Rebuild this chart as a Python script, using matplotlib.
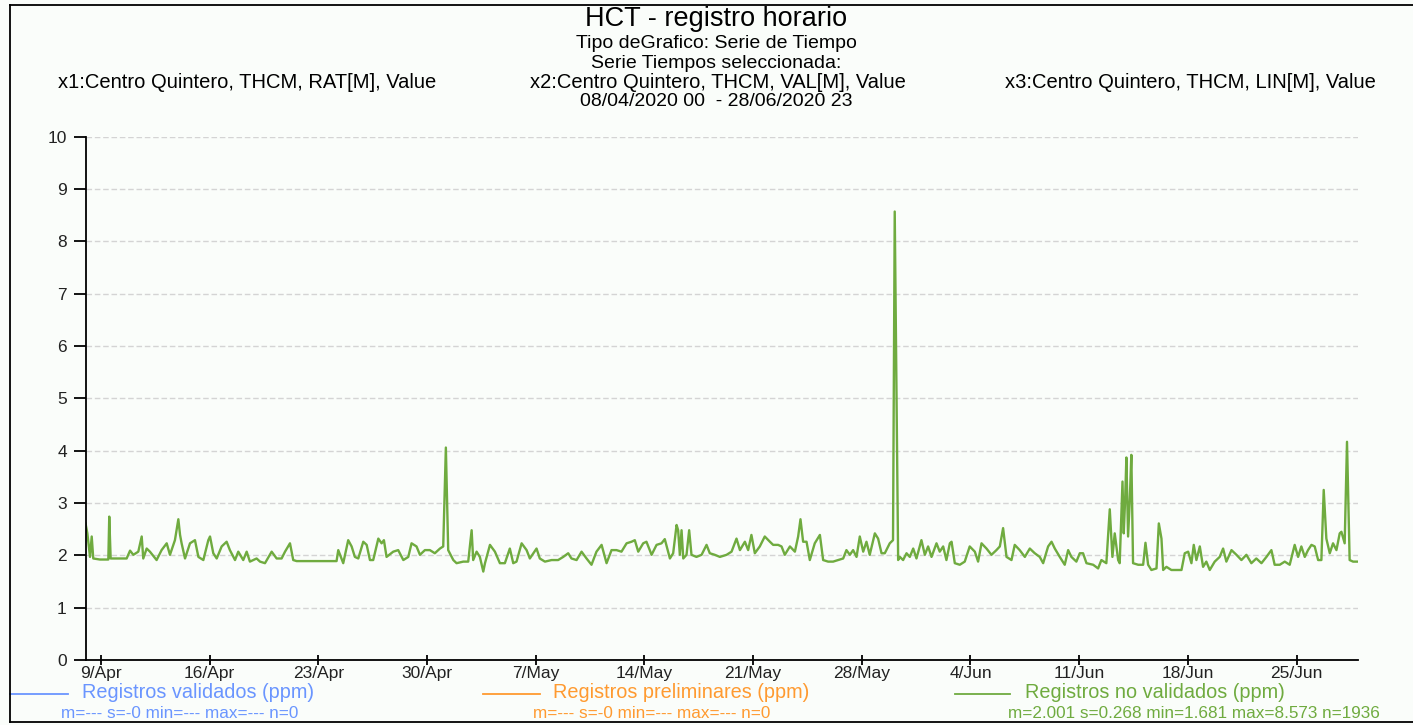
import numpy as np
import pandas as pd
import matplotlib
matplotlib.use("Agg")
import matplotlib.pyplot as plt
from matplotlib.lines import Line2D

# hourly THCM record, sampled from the chart (days since 08/04/2020 00:00, ppm)
day_offset = [
    0.00, 0.12, 0.29, 0.40, 0.50, 0.93, 1.47, 1.53, 1.62, 2.11, 2.65, 2.87, 3.08, 3.40, 3.62,
    3.72, 3.94, 4.15, 4.58, 4.90, 5.23, 5.44, 5.76, 5.98, 6.09, 6.19, 6.41, 6.73, 7.05, 7.27,
    7.59, 7.91, 8.02, 8.23, 8.45, 8.77, 9.09, 9.30, 9.63, 9.84, 10.16, 10.38, 10.59, 11.02, 11.24,
    11.56, 11.99, 12.31, 12.63, 12.85, 13.17, 13.38, 13.60, 16.17, 16.28, 16.60, 16.92, 17.14, 17.35, 17.57,
    17.89, 18.11, 18.32, 18.53, 18.86, 19.07, 19.22, 19.39, 19.82, 20.14, 20.47, 20.79, 21.00, 21.32, 21.54,
    21.86, 22.18, 22.50, 22.83, 23.04, 23.21, 23.36, 23.69, 23.90, 24.33, 24.65, 24.87, 24.97, 25.19, 25.40,
    25.62, 25.73, 26.05, 26.37, 26.69, 27.01, 27.33, 27.55, 27.76, 28.09, 28.41, 28.62, 29.05, 29.26, 29.59,
    30.02, 30.44, 30.77, 31.09, 31.30, 31.63, 31.95, 32.27, 32.59, 32.91, 33.24, 33.56, 33.88, 34.20, 34.52,
    34.85, 35.17, 35.38, 35.60, 35.92, 36.13, 36.46, 36.78, 37.10, 37.31, 37.64, 37.85, 38.07, 38.17, 38.28,
    38.39, 38.50, 38.71, 38.88, 39.03, 39.35, 39.68, 40.00, 40.21, 40.53, 40.86, 41.29, 41.61, 41.93, 42.15,
    42.47, 42.68, 42.89, 43.11, 43.43, 43.75, 44.08, 44.29, 44.61, 44.83, 45.04, 45.37, 45.69, 45.90, 46.05,
    46.22, 46.44, 46.65, 46.97, 47.30, 47.51, 47.83, 48.15, 48.48, 48.80, 49.01, 49.23, 49.44, 49.66, 49.87,
    50.09, 50.30, 50.51, 50.84, 51.05, 51.27, 51.48, 51.80, 52.01, 52.12, 52.34, 52.45, 52.66, 52.88, 53.09,
    53.31, 53.52, 53.84, 54.06, 54.27, 54.49, 54.81, 55.02, 55.24, 55.45, 55.67, 55.78, 55.99, 56.31, 56.63,
    56.95, 57.28, 57.49, 57.71, 58.03, 58.35, 58.67, 58.89, 59.10, 59.32, 59.64, 59.85, 60.17, 60.50, 60.82,
    61.14, 61.46, 61.68, 62.00, 62.22, 62.43, 62.75, 63.07, 63.29, 63.50, 63.82, 64.04, 64.25, 64.47, 64.90,
    65.22, 65.43, 65.75, 65.97, 66.14, 66.29, 66.51, 66.61, 66.79, 66.87, 66.96, 67.04, 67.15, 67.26, 67.36,
    67.47, 67.80, 68.12, 68.27, 68.44, 68.65, 68.98, 69.13, 69.30, 69.41, 69.62, 69.94, 70.26, 70.59, 70.80,
    71.02, 71.23, 71.38, 71.55, 71.77, 71.98, 72.19, 72.41, 72.73, 73.05, 73.27, 73.48, 73.81, 74.13, 74.45,
    74.77, 75.09, 75.41, 75.74, 76.06, 76.38, 76.59, 76.92, 77.24, 77.56, 77.88, 78.10, 78.31, 78.53, 78.74,
    78.96, 79.17, 79.39, 79.60, 79.75, 79.92, 80.14, 80.35, 80.57, 80.78, 80.89, 81.10, 81.25, 81.42, 81.64,
    81.96,
]
ppm = [
    2.61, 2.42, 1.97, 2.36, 1.94, 1.92, 1.92, 2.74, 1.94, 1.94, 1.94, 2.09, 2.01, 2.07, 2.36,
    1.94, 2.13, 2.07, 1.91, 2.10, 2.23, 2.01, 2.29, 2.69, 2.39, 2.23, 1.94, 2.23, 2.29, 1.97,
    1.91, 2.29, 2.36, 2.04, 1.94, 2.17, 2.26, 2.10, 1.91, 2.07, 1.91, 2.07, 1.88, 1.94, 1.88,
    1.85, 2.07, 1.94, 1.94, 2.07, 2.23, 1.91, 1.89, 1.89, 2.10, 1.85, 2.29, 2.17, 1.97, 1.94,
    2.26, 2.20, 1.91, 1.91, 2.32, 2.23, 2.29, 1.97, 2.07, 2.10, 1.91, 1.97, 2.23, 2.17, 2.01,
    2.10, 2.10, 2.04, 2.13, 2.17, 4.06, 2.10, 1.91, 1.85, 1.88, 1.88, 2.48, 1.91, 2.07, 1.97,
    1.69, 1.85, 2.20, 2.07, 1.85, 1.85, 2.13, 1.85, 1.88, 2.23, 2.10, 1.94, 2.13, 1.94, 1.88,
    1.91, 1.91, 1.97, 2.04, 1.94, 1.91, 2.07, 1.94, 1.82, 2.07, 2.20, 1.85, 2.10, 2.10, 2.07,
    2.23, 2.26, 2.29, 2.07, 2.23, 2.26, 2.01, 2.20, 2.23, 2.31, 1.94, 2.04, 2.58, 2.48, 2.01,
    2.48, 1.94, 2.01, 2.48, 2.01, 1.97, 2.01, 2.20, 2.04, 2.01, 1.97, 2.01, 2.07, 2.32, 2.10,
    2.26, 2.10, 2.39, 2.04, 2.17, 2.36, 2.26, 2.20, 2.20, 2.17, 2.01, 2.17, 2.07, 2.36, 2.69,
    2.26, 2.26, 1.91, 2.23, 2.39, 1.91, 1.88, 1.88, 1.91, 1.94, 2.10, 2.01, 2.10, 1.97, 2.36,
    2.07, 2.26, 2.01, 2.42, 2.32, 2.04, 2.04, 2.23, 2.29, 8.57, 1.91, 1.97, 1.91, 2.04, 1.97,
    2.13, 1.94, 2.29, 2.01, 2.17, 1.97, 2.23, 2.07, 2.17, 1.91, 2.23, 2.26, 1.85, 1.82, 1.88,
    2.17, 2.07, 1.88, 2.23, 2.13, 2.01, 2.10, 2.17, 2.52, 1.97, 1.91, 2.20, 2.10, 1.97, 2.13,
    2.04, 1.97, 1.85, 2.17, 2.26, 2.13, 1.97, 1.82, 2.10, 1.97, 1.88, 2.04, 2.04, 1.85, 1.82,
    1.75, 1.91, 1.85, 2.88, 1.97, 2.42, 1.91, 1.85, 3.41, 2.42, 3.06, 3.87, 2.36, 3.06, 3.92,
    1.85, 1.82, 1.82, 2.24, 1.82, 1.72, 1.75, 2.61, 2.32, 1.72, 1.78, 1.72, 1.72, 1.72, 2.04,
    2.07, 1.85, 2.20, 1.91, 2.17, 1.78, 1.88, 1.72, 1.88, 1.97, 2.13, 1.88, 2.10, 2.01, 1.91,
    2.01, 1.85, 1.94, 1.85, 1.97, 2.10, 1.82, 1.82, 1.88, 1.82, 2.20, 1.97, 2.17, 1.97, 2.10,
    2.20, 2.17, 1.91, 1.91, 3.25, 2.32, 2.04, 2.23, 2.10, 2.42, 2.45, 2.23, 4.17, 1.91, 1.88,
    1.88,
]

start = pd.Timestamp("2020-04-08 00:00")
end = pd.Timestamp("2020-06-28 23:00")
tick_dates = pd.date_range("2020-04-09", periods=12, freq="7D")
tick_labels = ["9/Apr", "16/Apr", "23/Apr", "30/Apr", "7/May", "14/May",
               "21/May", "28/May", "4/Jun", "11/Jun", "18/Jun", "25/Jun"]

title = "HCT - registro horario"
subtitle_1 = "Tipo deGrafico: Serie de Tiempo"
subtitle_2 = "Serie Tiempos seleccionada:"
series_names = ["x1:Centro Quintero, THCM, RAT[M], Value",
                "x2:Centro Quintero, THCM, VAL[M], Value",
                "x3:Centro Quintero, THCM, LIN[M], Value"]
date_range_text = "08/04/2020 00  - 28/06/2020 23"
legend_names = ["Registros validados (ppm)", "Registros preliminares (ppm)",
                "Registros no validados (ppm)"]
legend_stats = ["m=--- s=-0 min=--- max=--- n=0",
                "m=--- s=-0 min=--- max=--- n=0",
                "m=2.001 s=0.268 min=1.681 max=8.573 n=1936"]
legend_colors = ["#6a95ff", "#ff9a30", "#6fab3f"]

W, H = 1413, 725
plt.rcParams["font.family"] = ["Liberation Sans", "DejaVu Sans"]
bg = "#fafdfa"

fig = plt.figure(figsize=(W / 100, H / 100), dpi=100, facecolor=bg)
ax = fig.add_axes([85.5 / W, 1 - 660 / H, (1358 - 85.5) / W, (660 - 136.7) / H])
ax.set_facecolor(bg)


def fx(x):
    return x / W


def fy(y):
    return 1 - y / H


times = start + pd.to_timedelta(day_offset, unit="D")
ax.plot(times, ppm, color=legend_colors[2], lw=1.7)

ax.set_xlim(start, end)
ax.set_ylim(0, 10)
ax.set_yticks(range(0, 11))
ax.set_xticks(tick_dates)
ax.set_xticklabels(tick_labels)
ax.grid(axis="y", color="#d4d4d4", lw=1.0, ls=(0, (4, 2)))
ax.set_axisbelow(True)

for s in ["top", "right"]:
    ax.spines[s].set_visible(False)
ax.spines["left"].set_linewidth(1.3)
ax.spines["bottom"].set_linewidth(1.3)
ax.tick_params(axis="y", length=9, width=1.3, pad=4.5, labelsize=12.5, labelcolor="#222222")
ax.tick_params(axis="x", direction="inout", length=6.5, width=1.3, pad=1, labelsize=12.5,
               labelcolor="#222222")

# header texts
fig.text(fx(716), fy(19), title, ha="center", va="center", fontsize=19.5)
fig.text(fx(716), fy(44), subtitle_1, ha="center", va="center", fontsize=14)
fig.text(fx(716), fy(63), subtitle_2, ha="center", va="center", fontsize=14)
for cx, name in zip([247, 718, 1190], series_names):
    fig.text(fx(cx), fy(82), name, ha="center", va="center", fontsize=14.5)
fig.text(fx(716), fy(101), date_range_text, ha="center", va="center", fontsize=14)

# legend row
line_x = [(10, 68), (483, 540), (955, 1010)]
label_x = [82, 553, 1025]
stats_cx = [180, 652, 1194]
for (x0, x1), lx, sx, name, stat, col in zip(line_x, label_x, stats_cx, legend_names,
                                             legend_stats, legend_colors):
    fig.add_artist(Line2D([fx(x0), fx(x1)], [fy(694), fy(694)], color=col, lw=1.3,
                          transform=fig.transFigure))
    fig.text(fx(lx), fy(693), name, ha="left", va="center", fontsize=14.3, color=col)
    fig.text(fx(sx), fy(713), stat, ha="center", va="center", fontsize=12.3, color=col)

# outer frame (left, top, bottom)
frame = dict(color="black", lw=1.3, transform=fig.transFigure)
fig.add_artist(Line2D([fx(10), fx(10)], [fy(5), fy(722)], **frame))
fig.add_artist(Line2D([fx(10), 1], [fy(5), fy(5)], **frame))
fig.add_artist(Line2D([fx(10), 1], [fy(722), fy(722)], **frame))

fig.savefig("out.png", dpi=100, facecolor=bg)
